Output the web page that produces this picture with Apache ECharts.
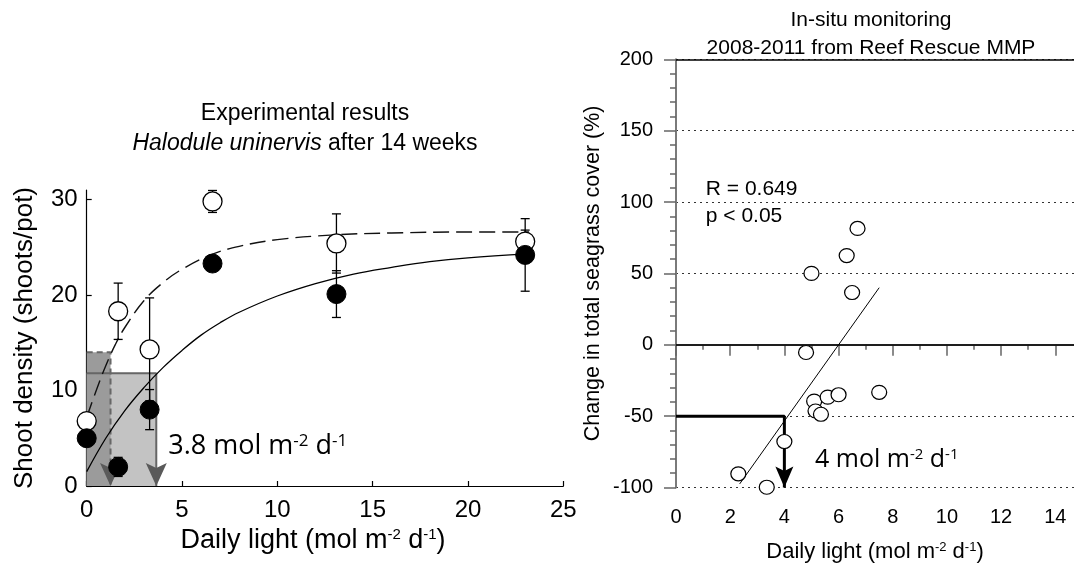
<!DOCTYPE html>
<html><head><meta charset="utf-8">
<script src="https://cdn.jsdelivr.net/npm/echarts@6/dist/echarts.min.js"></script>
<style>html,body{margin:0;padding:0;background:#fff}#c{width:1074px;height:568px}</style>
</head><body><div id="c"></div>
<script>
// ---------- Left panel: experimental results ----------
const lightLevels = [0, 1.65, 3.3, 6.6, 13.1, 23.0];
const openMean   = [6.8, 18.3, 14.3, 29.8, 25.4, 25.6];
const openErr    = [0, 2.95, 5.4, 1.15, 3.1, 1.2];
const closedMean = [5.0, 2.0, 8.0, 23.3, 20.1, 24.2];
const closedErr  = [0, 1.0, 2.1, 0.7, 2.45, 3.8];
const dashedFitX = [0, 0.5, 1, 1.5, 2, 3, 4, 5, 6.5, 8, 10, 13, 16, 20, 23.2];
const dashedFitY = [7.2, 10.0, 12.6, 14.8, 16.6, 19.4, 21.3, 22.7, 24.2, 25.1, 25.8, 26.3, 26.5, 26.6, 26.6];
const solidFitX  = [0, 1, 2, 3, 4, 5, 6, 7, 8, 10, 12, 14, 16, 18, 20, 23.1];
const solidFitY  = [1.5, 5.0, 7.9, 10.3, 12.4, 14.2, 15.8, 17.1, 18.2, 19.9, 21.2, 22.2, 22.9, 23.5, 23.9, 24.3];
const thresholdOpen   = [1.25, 14.0];   // [light, shoot density]
const thresholdClosed = [3.65, 11.8];
const leftXTicks = [0, 5, 10, 15, 20, 25];
const leftYTicks = [0, 10, 20, 30];

// ---------- Right panel: in-situ monitoring ----------
const siteLight   = [5.0, 6.3, 6.7, 6.5, 4.8, 5.1, 5.6, 6.0, 7.5, 5.15, 5.35, 4.0, 2.3, 3.35];
const coverChange = [50, 62.5, 81.5, 36.6, -5.4, -39.5, -36.7, -35, -33.3, -46.4, -48.7, -67.8, -90.4, -99.8];
const regLineX = [2.35, 7.5];
const regLineY = [-97.5, 40];
const thresholdLight = 4;
const thresholdChange = -50;
const rightXTicks = [0, 2, 4, 6, 8, 10, 12, 14];
const rightYTicks = [-100, -50, 0, 50, 100, 150, 200];
const solidRefLines = [0, 200];

// ---------- styling ----------
const FONT = '"Liberation Sans", Arial, Helvetica, sans-serif';
const MYR = '"Open Sans", "Noto Sans", sans-serif';

function supRich(B, S, D, fam) {
  const P = Math.max(0, D + B / 2 - S / 2);
  return {
    b: { fontFamily: fam, fontSize: B, lineHeight: B, verticalAlign: 'bottom', color: '#000', fill: '#000' },
    s: { fontFamily: fam, fontSize: S, lineHeight: S, verticalAlign: 'top', padding: [0, 0, P, 0], color: '#000', fill: '#000' }
  };
}
const unitName = '{b|Daily light (mol m}{s|-2}{b| d}{s|-1}{b|)}';

function zip(xs, ys) { return xs.map((x, i) => [x, ys[i]]); }

function errorSeries(means, errs) {
  const data = [];
  lightLevels.forEach((x, i) => { if (errs[i] > 0) data.push([x, means[i] - errs[i], means[i] + errs[i]]); });
  return {
    type: 'custom', xAxisIndex: 0, yAxisIndex: 0, z: 4, silent: true,
    encode: { x: 0, y: [1, 2] },
    data,
    renderItem(params, api) {
      const x = api.value(0);
      const lo = api.coord([x, api.value(1)]);
      const hi = api.coord([x, api.value(2)]);
      const cw = 4.5, st = { stroke: '#000', lineWidth: 1.3 };
      return { type: 'group', children: [
        { type: 'line', shape: { x1: lo[0], y1: lo[1], x2: hi[0], y2: hi[1] }, style: st },
        { type: 'line', shape: { x1: lo[0] - cw, y1: lo[1], x2: lo[0] + cw, y2: lo[1] }, style: st },
        { type: 'line', shape: { x1: hi[0] - cw, y1: hi[1], x2: hi[0] + cw, y2: hi[1] }, style: st }
      ]};
    }
  };
}

// downward arrow heads whose tip sits on the given data point
function arrowHeads(idx, points, w, h, color, z) {
  return {
    type: 'custom', xAxisIndex: idx, yAxisIndex: idx, z, silent: true, clip: false,
    data: points,
    renderItem(params, api) {
      const p = api.coord([api.value(0), api.value(1)]);
      return { type: 'polygon',
        shape: { points: [[p[0], p[1]], [p[0] + w / 2, p[1] - h], [p[0], p[1] - h * 0.78], [p[0] - w / 2, p[1] - h]] },
        style: { fill: color } };
    }
  };
}

const rightYMin = rightYTicks[0];

const option = {
  animation: false,
  backgroundColor: '#fff',
  grid: [
    { left: 86.7, top: 190, width: 476.6, height: 296 },
    { left: 676, top: 59.3, width: 398, height: 429.4 }
  ],
  xAxis: [
    {
      type: 'value', gridIndex: 0, min: 0, max: 25, interval: 5,
      axisLine: { show: true, lineStyle: { color: '#000', width: 1.2 } },
      axisTick: { show: true, inside: true, length: 5, lineStyle: { color: '#000', width: 1.2 } },
      axisLabel: { fontFamily: FONT, fontSize: 24, color: '#000', margin: 12, customValues: leftXTicks },
      splitLine: { show: false },
      name: unitName, nameLocation: 'middle', nameGap: 33,
      nameTextStyle: { rich: supRich(27, 15, 6, FONT), padding: [0, 24, 0, 0] }
    },
    {
      type: 'value', gridIndex: 1, min: 0, max: 14.69, interval: 2,
      axisLine: { show: true, lineStyle: { color: '#777', width: 2 } },
      axisTick: { show: true, length: 11, lineStyle: { color: '#666', width: 1.5 }, customValues: rightXTicks },
      minorTick: { show: true, splitNumber: 2, length: 5, lineStyle: { color: '#666', width: 1.5 } },
      axisLabel: { fontFamily: FONT, fontSize: 20, color: '#000', margin: 20, customValues: rightXTicks },
      splitLine: { show: false },
      name: unitName, nameLocation: 'middle', nameGap: 53,
      nameTextStyle: { rich: supRich(22, 13, 5, FONT) }
    }
  ],
  yAxis: [
    {
      type: 'value', gridIndex: 0, min: 0, max: 31, interval: 10,
      axisLine: { show: true, lineStyle: { color: '#000', width: 1.2 } },
      axisTick: { show: true, inside: true, length: 5, lineStyle: { color: '#000', width: 1.2 }, customValues: leftYTicks },
      axisLabel: { fontFamily: FONT, fontSize: 24, color: '#000', margin: 9, customValues: leftYTicks },
      splitLine: { show: false },
      name: 'Shoot density (shoots/pot)', nameLocation: 'middle', nameGap: 49,
      nameTextStyle: { fontFamily: FONT, fontSize: 26, color: '#000' }
    },
    {
      type: 'value', gridIndex: 1, min: -100, max: 200, interval: 50,
      axisLine: { show: true, lineStyle: { color: '#7a7a7a', width: 2 } },
      axisTick: { show: true, length: 12, lineStyle: { color: '#666', width: 1.5 } },
      minorTick: { show: true, splitNumber: 5, length: 6, lineStyle: { color: '#666', width: 1.5 } },
      axisLabel: { fontFamily: FONT, fontSize: 20, color: '#000', margin: 23 },
      splitLine: { show: true, lineStyle: { color: '#333', width: 1, type: [2, 4] } },
      name: 'Change in total seagrass cover (%)', nameLocation: 'middle', nameGap: 72,
      nameTextStyle: { fontFamily: FONT, fontSize: 21.5, color: '#000' }
    }
  ],
  series: [
    // threshold boxes (left)
    { type: 'line', xAxisIndex: 0, yAxisIndex: 0, z: 1, silent: true, showSymbol: false,
      data: [[0, thresholdClosed[1]], thresholdClosed],
      lineStyle: { width: 0 }, areaStyle: { color: '#c3c3c3', opacity: 1 } },
    { type: 'line', xAxisIndex: 0, yAxisIndex: 0, z: 1, silent: true, showSymbol: false,
      data: [[0, thresholdOpen[1]], thresholdOpen],
      lineStyle: { width: 0 }, areaStyle: { color: '#9b9b9b', opacity: 1 } },
    { type: 'line', xAxisIndex: 0, yAxisIndex: 0, z: 2, silent: true, showSymbol: false,
      data: [[0, thresholdClosed[1]], thresholdClosed, [thresholdClosed[0], 0]],
      lineStyle: { color: '#666', width: 2 } },
    { type: 'line', xAxisIndex: 0, yAxisIndex: 0, z: 2, silent: true, showSymbol: false,
      data: [[0, thresholdOpen[1]], thresholdOpen, [thresholdOpen[0], 0]],
      lineStyle: { color: '#666', width: 2, type: [6, 4] } },
    arrowHeads(0, [[thresholdOpen[0], 0], [thresholdClosed[0], 0]], 21, 23, '#5a5a5a', 3),
    // fitted curves
    { type: 'line', xAxisIndex: 0, yAxisIndex: 0, z: 3, silent: true, showSymbol: false, smooth: 0.4,
      data: zip(dashedFitX, dashedFitY),
      lineStyle: { color: '#111', width: 1.4, type: [16, 7] } },
    { type: 'line', xAxisIndex: 0, yAxisIndex: 0, z: 3, silent: true, showSymbol: false, smooth: 0.4,
      data: zip(solidFitX, solidFitY),
      lineStyle: { color: '#000', width: 1.3 } },
    errorSeries(openMean, openErr),
    errorSeries(closedMean, closedErr),
    { type: 'scatter', xAxisIndex: 0, yAxisIndex: 0, z: 5, clip: false,
      data: zip(lightLevels, openMean), symbol: 'circle', symbolSize: 19,
      itemStyle: { color: '#fff', borderColor: '#000', borderWidth: 1.3, opacity: 1 } },
    { type: 'scatter', xAxisIndex: 0, yAxisIndex: 0, z: 5, clip: false,
      data: zip(lightLevels, closedMean), symbol: 'circle', symbolSize: 19,
      itemStyle: { color: '#000', borderColor: '#000', borderWidth: 1, opacity: 1 } },

    // right panel
    { type: 'line', xAxisIndex: 1, yAxisIndex: 1, z: 2, silent: true, showSymbol: false,
      data: zip(regLineX, regLineY), lineStyle: { color: '#000', width: 1 },
      markLine: { silent: true, symbol: 'none', label: { show: false },
        lineStyle: { color: '#000', width: 1.5, type: 'solid' },
        data: solidRefLines.map(v => ({ yAxis: v })) } },
    { type: 'line', xAxisIndex: 1, yAxisIndex: 1, z: 3, silent: true, showSymbol: false,
      data: [[0, thresholdChange], [thresholdLight, thresholdChange], [thresholdLight, rightYMin]],
      lineStyle: { color: '#000', width: 3 } },
    arrowHeads(1, [[thresholdLight, rightYMin]], 18, 21, '#000', 4),
    { type: 'scatter', xAxisIndex: 1, yAxisIndex: 1, z: 5, clip: false,
      data: zip(siteLight, coverChange), symbol: 'circle', symbolSize: [15, 14],
      itemStyle: { color: '#fff', borderColor: '#000', borderWidth: 1.2, opacity: 1 } }
  ],
  graphic: [
    { type: 'text', x: 305, y: 114, style: { text: 'Experimental results', fontFamily: FONT, fontSize: 23, fill: '#000', align: 'center', verticalAlign: 'middle' } },
    { type: 'text', x: 305, y: 144, style: { text: '{i|Halodule uninervis}{n| after 14 weeks}', align: 'center', verticalAlign: 'middle',
      rich: { i: { fontFamily: FONT, fontSize: 23, fontStyle: 'italic', fill: '#000' }, n: { fontFamily: FONT, fontSize: 23, fill: '#000' } } } },
    { type: 'text', x: 871, y: 20, style: { text: 'In-situ monitoring', fontFamily: FONT, fontSize: 21, fill: '#000', align: 'center', verticalAlign: 'middle' } },
    { type: 'text', x: 871, y: 48, style: { text: '2008-2011 from Reef Rescue MMP', fontFamily: FONT, fontSize: 21, fill: '#000', align: 'center', verticalAlign: 'middle' } }
  ]
};

const chart = echarts.init(document.getElementById('c'), null, { renderer: 'canvas' });
chart.setOption(option);

// annotations anchored in data coordinates
const annotations = [
  { grid: 0, at: [4.28, 4.2], text: '{b|3.8 mol m}{s|-2}{b| d}{s|-1}', B: 27, S: 17, D: 19, fam: MYR },
  { grid: 1, at: [5.13, -80.5], text: '{b|4 mol m}{s|-2}{b| d}{s|-1}', B: 25, S: 15, D: 16, fam: MYR },
  { grid: 1, at: [1.1, 109], text: '{b|R = 0.649}', B: 21, S: 12, D: 0, fam: FONT },
  { grid: 1, at: [1.1, 90], text: '{b|p < 0.05}', B: 21, S: 12, D: 0, fam: FONT }
];
const extra = annotations.map(a => {
  const p = chart.convertToPixel({ xAxisIndex: a.grid, yAxisIndex: a.grid }, a.at);
  return { type: 'text', x: p[0], y: p[1] + a.B / 2, z: 100,
    style: { text: a.text, rich: supRich(a.B, a.S, a.D, a.fam), align: 'left', verticalAlign: 'bottom' } };
});
chart.setOption({ graphic: option.graphic.concat(extra) });
</script>
</body></html>
